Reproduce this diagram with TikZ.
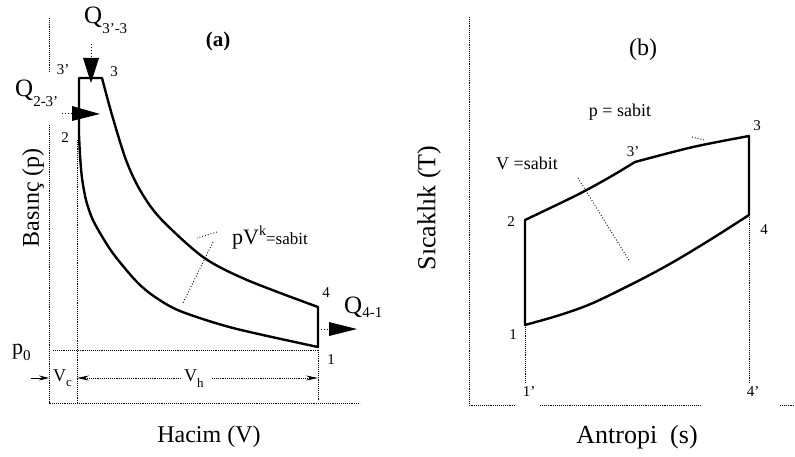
\documentclass[tikz,border=0pt]{standalone}
\usepackage{fontspec}
\setmainfont{Liberation Serif}
\usetikzlibrary{arrows.meta}
\newcommand{\myfs}[1]{\fontsize{#1}{#1}\selectfont}
\begin{document}
\begin{tikzpicture}[x=1pt,y=-1pt,
  cyc/.style={line width=2.4pt, line join=round},
  axis/.style={densely dotted, line width=0.9pt},
  lead/.style={dotted, line width=0.9pt},
  lbl/.style={font=\myfs{15}, inner sep=0pt},
  qarrow/.style={fill=black},
  dimarrow/.style={densely dotted, line width=0.9pt, -{Stealth[length=12pt,width=5pt]}},
  ]
\useasboundingbox[fill=white] (0,0) rectangle (795,457);

% ---------------- panel (a) ----------------
\coordinate (axT1) at (49,18); \coordinate (axB1) at (49,73);
\coordinate (axT2) at (49,125); \coordinate (axO) at (49,403);
\coordinate (axR) at (360,403);
\draw[axis] (axT1) -- (axB1);
\draw[axis] (axT2) -- (axO) -- (axR);
\coordinate (vcT) at (77,140); \coordinate (vcB) at (77,403);
\draw[axis] (vcT) -- (vcB);
\coordinate (p0L) at (53,350); \coordinate (p0R) at (318,350);
\draw[axis] (p0L) -- (p0R);
\coordinate (vhT) at (318,350); \coordinate (vhB) at (318,400);
\draw[axis] (vhT) -- (vhB);

\coordinate (a3p) at (79,78); \coordinate (a3) at (102,78);
\coordinate (a2) at (79,135); \coordinate (a1) at (318,347);
\coordinate (a4) at (318,307);
\draw[cyc] (a2) -- (a3p) -- (a3)
  -- plot[smooth] coordinates {(102,78) (112,115) (126,160) (140,190) (160,218) (203,257) (247,280) (318,307)}
  -- (a1)
  -- plot[smooth] coordinates {(318,347) (233,328) (180,311) (155,297) (140,285) (128,272) (112,252) (100,233) (92,218) (86,200) (82,178) (80,155) (79,135)}
  -- cycle;

\coordinate (q33a) at (91,44); \coordinate (q33b) at (91,58);
\draw[lead] (q33a) -- (q33b);
\fill[qarrow] (83,58) -- (99,58) -- (91,83) -- cycle;
\coordinate (q23a) at (62,113); \coordinate (q23b) at (72,113);
\draw[lead] (q23a) -- (q23b);
\fill[qarrow] (72,106) -- (100,114) -- (72,121) -- cycle;
\coordinate (q41a) at (318,329); \coordinate (q41b) at (329,329);
\draw[lead] (q41a) -- (q41b);
\fill[qarrow] (329,322) -- (357,329) -- (329,336) -- cycle;

\node[anchor=base west, inner sep=0pt, font=\myfs{25}] (Q33) at (84,24) {Q\raisebox{-10pt}{\myfs{15}3'-3}};
\node[anchor=base west, inner sep=0pt, font=\myfs{25}] (Q23) at (15,97) {Q\raisebox{-10pt}{\myfs{15}2-3'}};
\node[anchor=base west, inner sep=0pt, font=\myfs{25}] (Q41) at (344,313) {Q\raisebox{-4pt}{\myfs{15}4-1}};
\node[lbl] (la3p) at (63,70) {3'};
\node[lbl] (la3) at (114,72) {3};
\node[lbl] (la2) at (65,138) {2};
\node[lbl] (la4) at (326,293) {4};
\node[lbl] (la1) at (331,360) {1};
\node[font=\bfseries\myfs{21}] (ta) at (218,41) {(a)};
\node[anchor=base west, inner sep=0pt, font=\myfs{22}] (pk) at (232,244) {pV\raisebox{9pt}{\myfs{14}k}\myfs{17}=sabit};
\coordinate (pkl1) at (217,232); \coordinate (pkl2) at (197,238);
\coordinate (pkl3) at (213,242); \coordinate (pkl4) at (183,303);
\draw[lead] (pkl1) -- (pkl2);
\draw[lead] (pkl3) -- (pkl4);
\node[anchor=base west, inner sep=0pt, font=\myfs{22}] (p0) at (12,354) {p\raisebox{-6pt}{\myfs{15}0}};
\node[anchor=base west, inner sep=0pt, font=\myfs{18}] (vc) at (53,381) {V\raisebox{-5pt}{\myfs{13}c}};
\node[anchor=base west, inner sep=0pt, font=\myfs{18}] (vh) at (184,381) {V\raisebox{-6pt}{\myfs{13}h}};
\coordinate (vcaL) at (31,378); \coordinate (vcaR) at (49,378);
\draw[-{Stealth[length=10pt,width=5pt]}, line width=0.9pt] (vcaL) -- (vcaR);
\coordinate (vhL) at (181,378); \coordinate (vhR) at (212,378);
\coordinate (vhEndL) at (77,378); \coordinate (vhEndR) at (318,378);
\draw[dimarrow] (vhL) -- (vhEndL);
\draw[dimarrow] (vhR) -- (vhEndR);
\node[rotate=90, font=\myfs{24}] (ya) at (33,198) {Basınç (p)};
\node[font=\myfs{24}] (xa) at (209,437) {Hacim (V)};

% ---------------- panel (b) ----------------
\coordinate (bT) at (469,17); \coordinate (bO) at (469,405);
\coordinate (bx1) at (515,405); \coordinate (bx2) at (540,405);
\coordinate (bx3) at (700,405); \coordinate (bx4) at (780,405);
\coordinate (bx5) at (795,405);
\draw[axis] (bT) -- (bO) -- (bx1);
\draw[axis] (bx2) -- (bx3);
\draw[axis] (bx4) -- (bx5);

\coordinate (b1) at (525,325); \coordinate (b2) at (525,220);
\coordinate (b3p) at (635,162); \coordinate (b3) at (749,136);
\coordinate (b4) at (749,215);
\coordinate (b1p) at (525,383); \coordinate (b4p) at (749,383);
\draw[axis] (b1) -- (b1p);
\draw[axis] (b4) -- (b4p);
\draw[cyc] (b1) -- (b2)
  -- plot[smooth] coordinates {(525,220) (577,195) (610,177) (635,162)}
  -- plot[smooth] coordinates {(635,162) (693,147) (749,136)}
  -- (b4)
  -- plot[smooth] coordinates {(749,215) (713,238) (675,261) (640,280) (593,303) (560,315) (525,325)}
  -- cycle;

\node[lbl] (lb2) at (511,222) {2};
\node[lbl] (lb1) at (513,335) {1};
\node[lbl] (lb1p) at (529,392) {1'};
\node[lbl] (lb4p) at (753,392) {4'};
\node[lbl] (lb3) at (757,126) {3};
\node[lbl] (lb3p) at (633,152) {3'};
\node[lbl] (lb4) at (764,230) {4};
\node[font=\myfs{24}] (tb) at (643,50) {(b)};
\node[font=\myfs{18}] (psab) at (620,112) {p = sabit};
\node[font=\myfs{18}] (vsab) at (527,163) {V =sabit};
\coordinate (vl1) at (578,178); \coordinate (vl2) at (630,262);
\draw[lead] (vl1) -- (vl2);
\coordinate (pl1) at (692,137); \coordinate (pl2) at (704,140);
\draw[lead] (pl1) -- (pl2);
\node[rotate=90, font=\myfs{26}] (yb) at (429,208) {Sıcaklık (T)};
\node[font=\myfs{26}] (xb) at (637,437) {Antropi\ \ (s)};
\end{tikzpicture}
\end{document}
